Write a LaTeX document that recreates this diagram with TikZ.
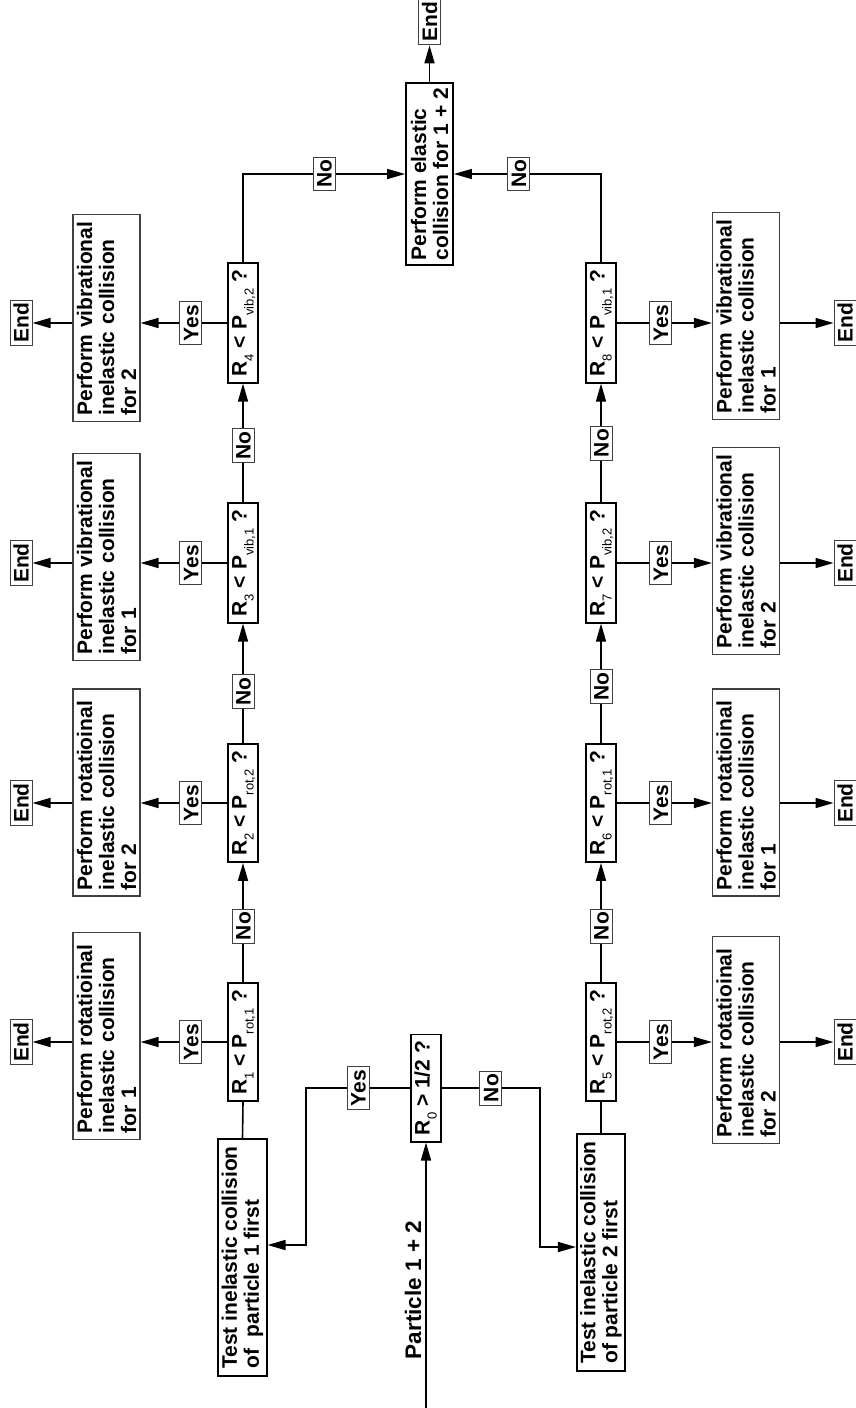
\documentclass[tikz,border=0pt]{standalone}
\usepackage{fontspec}
\setmainfont{Liberation Sans}
\usetikzlibrary{arrows.meta,calc}
\newcommand{\sbs}[1]{\raisebox{-7pt}{\fontsize{13}{13}\selectfont\mdseries #1}}
\begin{document}
\begin{tikzpicture}[x=1pt,y=1pt,
  every node/.style={rotate=90, font=\fontsize{21}{22}\selectfont\bfseries},
  dec/.style={draw, line width=1.8pt, inner xsep=6.5pt, inner ysep=3.5pt, text height=15pt, text depth=8pt},
  act/.style={draw=black!75, line width=1.1pt, text width=195pt, align=left, inner xsep=6pt, minimum height=67pt},
  tbox/.style={draw, line width=1.8pt, align=left, inner xsep=7pt, minimum height=47pt},
  lab/.style={draw=black!75, line width=1pt, fill=white, inner xsep=3pt, inner ysep=3.5pt, text height=15pt, text depth=0pt},
  conn/.style={line width=1.6pt},
  arr/.style={conn, -{Triangle[length=18pt,width=10pt]}}]
\useasboundingbox (0,0) rectangle (856,-1408);
% decisions
\node[dec] (R0) at (426,-1088) {R\sbs{0} > 1/2 ?};
\node[dec] (R1) at (243,-1042) {R\sbs{1} < P\sbs{rot,1} ?};
\node[dec] (R2) at (243,-803) {R\sbs{2} < P\sbs{rot,2} ?};
\node[dec] (R3) at (243,-563) {R\sbs{3} < P\sbs{vib,1} ?};
\node[dec] (R4) at (243,-323) {R\sbs{4} < P\sbs{vib,2} ?};
\node[dec] (R5) at (601,-1042) {R\sbs{5} < P\sbs{rot,2} ?};
\node[dec] (R6) at (601,-803) {R\sbs{6} < P\sbs{rot,1} ?};
\node[dec] (R7) at (601,-563) {R\sbs{7} < P\sbs{vib,2} ?};
\node[dec] (R8) at (601,-323) {R\sbs{8} < P\sbs{vib,1} ?};
% actions
\node[act] (P1) at (106.5,-1036) {Perform rotatioinal\\inelastic collision\\for 1};
\node[act] (P2) at (106.5,-792.5) {Perform rotatioinal\\inelastic collision\\for 2};
\node[act] (P3) at (106.5,-557) {Perform vibrational\\inelastic collision\\for 1};
\node[act] (P4) at (106.5,-318) {Perform vibrational\\inelastic collision\\for 2};
\node[act] (P5) at (746,-1040) {Perform rotatioinal\\inelastic collision\\for 2};
\node[act] (P6) at (746,-792.5) {Perform rotatioinal\\inelastic collision\\for 1};
\node[act] (P7) at (746,-551) {Perform vibrational\\inelastic collision\\for 2};
\node[act] (P8) at (746,-316) {Perform vibrational\\inelastic collision\\for 1};
% ends
\node[lab] (E1) at (21,-1042) {End};
\node[lab] (E2) at (21,-803) {End};
\node[lab] (E3) at (21,-563) {End};
\node[lab] (E4) at (21,-323) {End};
\node[lab] (E5) at (845,-1042) {End};
\node[lab] (E6) at (845,-803) {End};
\node[lab] (E7) at (845,-563) {End};
\node[lab] (E8) at (845,-323) {End};
\node[lab] (E0) at (429.5,-22) {End};
% other boxes
\node[tbox, inner xsep=5pt] (EL) at (429.5,-174) {Perform elastic\\collision for 1 + 2};
\node[tbox] (T1) at (242.5,-1257.5) {Test inelastic collision\\of\ \ particle 1 first};
\node[tbox] (T2) at (601,-1252.5) {Test inelastic collision\\of particle 2 first};
\node[anchor=base, font=\fontsize{22.5}{24}\selectfont\bfseries] (PT) at (421,-1290) {Particle 1 + 2};
\coordinate (IN) at (426,-1408);
\coordinate (k1) at (306,-1245);
\coordinate (k2) at (540,-1247);
% connectors
\draw[arr] (IN) -- (R0.west);
\draw[arr] (R0.north) -- node[lab]{Yes} (R0.north -| k1) |- (T1.south |- k1);
\draw[arr] (R0.south) -- node[lab]{No} (R0.south -| k2) |- (T2.north |- k2);
\draw[conn] (T1.east) -- (R1.west);
\draw[conn] (T2.east) -- (R5.west);
\draw[arr] (R1.east) -- node[lab,pos=0.47]{No} (R2.west);
\draw[arr] (R2.east) -- node[lab,pos=0.43]{No} (R3.west);
\draw[arr] (R3.east) -- node[lab,pos=0.48]{No} (R4.west);
\draw[arr] (R5.east) -- node[lab,pos=0.47]{No} (R6.west);
\draw[arr] (R6.east) -- node[lab,pos=0.47]{No} (R7.west);
\draw[arr] (R7.east) -- node[lab,pos=0.5]{No} (R8.west);
\draw[arr] (R4.east) |- node[lab,pos=0.75]{No} (EL.north);
\draw[arr] (R8.east) |- node[lab,pos=0.78]{No} (EL.south);
\draw[arr] (EL.east) -- (E0.west);
\foreach \i in {1,2,3,4}{
  \draw[arr] (R\i.north) -- node[lab,pos=0.42]{Yes} (P\i.south |- R\i.north);
  \draw[arr] (P\i.north |- E\i) -- (E\i.south);
}
\foreach \i in {5,6,7,8}{
  \draw[arr] (R\i.south) -- node[lab,pos=0.46]{Yes} (P\i.north |- R\i.south);
  \draw[arr] (P\i.south |- E\i) -- (E\i.north);
}
\end{tikzpicture}
\end{document}
